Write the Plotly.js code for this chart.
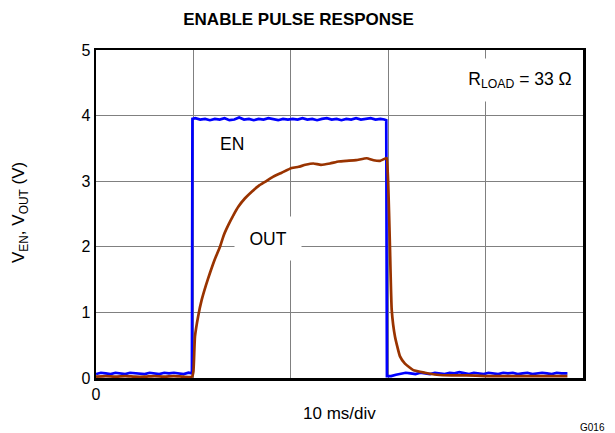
<!DOCTYPE html>
<html>
<head>
<meta charset="utf-8">
<script src="https://cdn.plot.ly/plotly-3.0.1.min.js"></script>
<style>html,body{margin:0;padding:0;background:#fff;}#chart{width:615px;height:433px;}</style>
</head>
<body>
<div id="chart"></div>
<script>
// Time in ms (10 ms per division), voltages in V
const enTime = [0,0.5,1,1.5,2,2.5,3,3.5,4,4.5,5,5.5,6,6.5,7,7.5,8,8.5,9,9.5,9.85,
  9.9,10.2,10.7,11.2,11.7,12.2,12.7,13.2,13.7,14.2,14.7,15.2,15.7,16.2,16.7,17.2,17.7,18.2,18.7,19.2,19.7,
  20.2,20.7,21.2,21.7,22.2,22.7,23.2,23.7,24.2,24.7,25.2,25.7,26.2,26.7,27.2,27.7,28.2,28.7,29.2,29.6,29.8,
  29.87,30.3,30.8,31.3,31.8,32.3,32.8,33.3,33.8,34.3,34.8,35.3,35.8,36.3,36.8,37.3,37.8,38.3,38.8,39.3,39.8,
  40.3,40.8,41.3,41.8,42.3,42.8,43.3,43.8,44.3,44.8,45.3,45.8,46.3,46.8,47.3,47.8,48.4];
const enVolt = [0.06,0.08,0.07,0.06,0.08,0.07,0.06,0.08,0.07,0.07,0.06,0.08,0.07,0.06,0.08,0.07,0.08,0.07,0.06,0.08,0.07,
  3.95,3.96,3.94,3.95,3.93,3.95,3.94,3.96,3.93,3.94,3.97,3.94,3.95,3.93,3.95,3.94,3.96,3.94,3.93,3.95,3.94,
  3.95,3.94,3.96,3.94,3.95,3.93,3.95,3.96,3.94,3.95,3.93,3.95,3.94,3.96,3.94,3.95,3.96,3.94,3.95,3.94,3.93,
  0.03,0.03,0.05,0.07,0.08,0.07,0.06,0.08,0.07,0.06,0.08,0.07,0.06,0.08,0.07,0.09,0.07,0.06,0.08,0.07,0.06,
  0.08,0.07,0.06,0.08,0.07,0.08,0.06,0.07,0.08,0.06,0.07,0.08,0.07,0.06,0.08,0.07,0.07];

const outTime = [0,1,2,3,4,5,6,7,8,9,9.85,
  10.0,10.16,10.5,10.85,11.3,11.7,12.2,12.73,13.1,13.58,14.1,14.61,15.3,15.99,16.7,17.35,18.2,19.07,20.09,
  20.8,21.5,22.31,23.1,24.02,24.9,25.74,26.7,27.79,28.5,29.16,29.77,
  29.85,30.0,30.18,30.36,30.7,31.21,31.72,32.58,33.78,35,36.5,38,40,42,44,46,48.4];
const outVolt = [0.02,0.03,0.02,0.03,0.02,0.02,0.03,0.02,0.03,0.02,0.02,
  0.1,0.63,0.95,1.19,1.42,1.6,1.81,2.0,2.17,2.33,2.48,2.61,2.74,2.84,2.93,2.99,3.07,3.13,3.2,
  3.22,3.25,3.27,3.25,3.27,3.3,3.31,3.32,3.35,3.32,3.31,3.35,
  3.35,2.97,2.0,1.04,0.63,0.33,0.22,0.12,0.08,0.05,0.04,0.04,0.03,0.03,0.03,0.03,0.03];

const xTicks = [0,10,20,30,40,50];
const xTickText = ['0','','','','',''];
const yTicks = [0,1,2,3,4,5];

const font = 'Liberation Sans, Arial, sans-serif';
const L = 96, R = 583, T = 50, B = 378;
const px = v => (v - L) / (R - L);
const py = v => (B - v) / (B - T);

const traces = [
  {x: enTime, y: enVolt, mode: 'lines', line: {color: '#0000ff', width: 2.7}, hoverinfo: 'skip'},
  {x: outTime, y: outVolt, mode: 'lines', line: {color: '#993300', width: 2.7, shape: 'spline', smoothing: 0.4}, hoverinfo: 'skip'}
];

const layout = {
  width: 615, height: 433,
  margin: {l: L, r: 615 - R, t: T, b: 433 - B},
  paper_bgcolor: '#fff', plot_bgcolor: '#fff',
  showlegend: false,
  font: {family: font, color: '#000', size: 16},
  title: {text: '<b>ENABLE PULSE RESPONSE</b>', font: {family: font, size: 17, color: '#000'},
          x: 298.5 / 615, xanchor: 'center', yref: 'container', y: (433 - 19) / 433, yanchor: 'middle'},
  xaxis: {range: [0, 50], tickvals: xTicks, ticktext: xTickText, showgrid: true, gridcolor: '#808080', gridwidth: 1,
          showline: true, mirror: true, linecolor: '#000', linewidth: 2.5, ticks: '', zeroline: false,
          tickfont: {size: 16}, fixedrange: true},
  yaxis: {range: [0, 5], tickvals: yTicks, showgrid: true, gridcolor: '#808080', gridwidth: 1,
          showline: true, mirror: true, linecolor: '#000', linewidth: 2.5, ticks: '', zeroline: false,
          tickfont: {size: 16}, fixedrange: true},
  annotations: [
    {x: 14.0, y: 3.57, xref: 'x', yref: 'y', text: 'EN', showarrow: false, font: {size: 17.5}},
    {x: 17.7, y: 2.13, xref: 'x', yref: 'y', text: 'OUT', showarrow: false, font: {size: 17.5},
     bgcolor: '#fff', width: 64, height: 41},
    {x: 43.5, y: 4.55, xref: 'x', yref: 'y', text: 'R<sub>LOAD</sub> = 33 Ω', showarrow: false, font: {size: 17.5},
     bgcolor: '#fff', width: 118, height: 40},
    {x: px(339.5), y: py(413), xref: 'paper', yref: 'paper', text: '10 ms/div', showarrow: false,
     font: {size: 17}, xanchor: 'center', yanchor: 'middle'},
    {x: px(20), y: py(213), xref: 'paper', yref: 'paper', text: 'V<sub>EN</sub>, V<sub>OUT</sub> (V)', showarrow: false,
     font: {size: 17}, textangle: -90, xanchor: 'center', yanchor: 'middle'},
    {x: px(592.5), y: py(427), xref: 'paper', yref: 'paper', text: 'G016', showarrow: false,
     font: {size: 10}, xanchor: 'center', yanchor: 'middle'}
  ]
};

Plotly.newPlot('chart', traces, layout, {staticPlot: true, displayModeBar: false});
</script>
</body>
</html>
